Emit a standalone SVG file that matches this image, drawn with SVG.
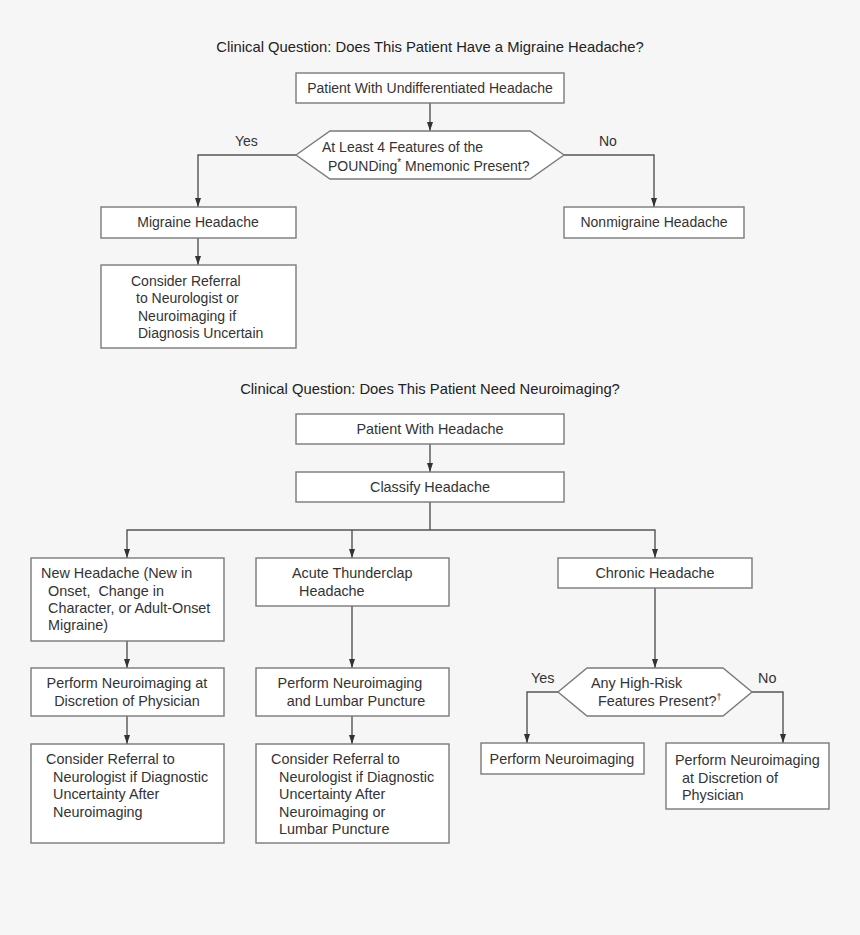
<svg xmlns="http://www.w3.org/2000/svg" width="860" height="935" viewBox="0 0 860 935">
<defs>
<marker id="ah" viewBox="0 0 9 6" refX="9" refY="3" markerWidth="9" markerHeight="6" markerUnits="userSpaceOnUse" orient="auto">
<path d="M0,0 L9,3 L0,6 z" fill="#333"/>
</marker>
<style>
.bx{fill:#fff;stroke:#7a7a7a;stroke-width:1.4}
.t{font-family:"Liberation Sans",Arial,sans-serif;font-size:14px;fill:#333}
.b{font-family:"Liberation Sans",Arial,sans-serif;font-size:14.4px;fill:#333}
.c{text-anchor:middle}
.ttl{font-family:"Liberation Sans",Arial,sans-serif;font-size:14.8px;fill:#222;text-anchor:middle}
.ln{fill:none;stroke:#555;stroke-width:1.4}
.ar{marker-end:url(#ah)}
</style>
</defs>
<rect width="860" height="935" fill="#f6f6f6"/>

<text class="ttl" x="430" y="52">Clinical Question: Does This Patient Have a Migraine Headache?</text>
<text class="ttl" x="430" y="394">Clinical Question: Does This Patient Need Neuroimaging?</text>

<g id="connectors">
<line class="ln ar" x1="430" y1="103" x2="430" y2="131"/>
<polyline class="ln ar" points="296,155 198,155 198,207"/>
<polyline class="ln ar" points="564,155 654,155 654,207"/>
<line class="ln ar" x1="198" y1="238" x2="198" y2="265"/>
<line class="ln ar" x1="430" y1="444" x2="430" y2="472"/>
<polyline class="ln" points="430,502 430,530"/>
<polyline class="ln ar" points="430,530 127,530 127,558"/>
<line class="ln ar" x1="352" y1="530" x2="352" y2="558"/>
<polyline class="ln ar" points="430,530 655,530 655,558"/>
<line class="ln ar" x1="127" y1="641" x2="127" y2="668"/>
<line class="ln ar" x1="352" y1="606" x2="352" y2="668"/>
<line class="ln ar" x1="655" y1="588" x2="655" y2="668"/>
<line class="ln ar" x1="127" y1="716" x2="127" y2="744"/>
<line class="ln ar" x1="352" y1="716" x2="352" y2="744"/>
<polyline class="ln ar" points="558,692 527,692 527,743"/>
<polyline class="ln ar" points="752,692 783,692 783,743"/>
</g>

<g id="n1">
<rect class="bx" x="296" y="73" width="268" height="30"/>
<text class="t c" x="430" y="93">Patient With Undifferentiated Headache</text>
</g>
<g id="n2">
<polygon class="bx" points="296,155 330,131 530,131 564,155 530,179 330,179"/>
<text class="t" x="322" y="152">At Least 4 Features of the</text>
<text class="t" x="328" y="171">POUNDing<tspan font-size="10" dy="-5">*</tspan><tspan dy="5"> Mnemonic Present?</tspan></text>
</g>
<g id="lbl-yes1"><text class="t" x="235" y="146">Yes</text></g>
<g id="lbl-no1"><text class="t" x="599" y="146">No</text></g>
<g id="n3">
<rect class="bx" x="101" y="207" width="195" height="31"/>
<text class="t c" x="198" y="227">Migraine Headache</text>
</g>
<g id="n4">
<rect class="bx" x="564" y="207" width="180" height="31"/>
<text class="t c" x="654" y="227">Nonmigraine Headache</text>
</g>
<g id="n5">
<rect class="bx" x="101" y="265" width="195" height="83"/>
<text class="t" x="131" y="286">Consider Referral</text>
<text class="t" x="136" y="303">to Neurologist or</text>
<text class="t" x="138" y="321">Neuroimaging if</text>
<text class="t" x="138" y="338">Diagnosis Uncertain</text>
</g>

<g id="n6">
<rect class="bx" x="296" y="414" width="268" height="30"/>
<text class="b c" x="430" y="434">Patient With Headache</text>
</g>
<g id="n7">
<rect class="bx" x="296" y="472" width="268" height="30"/>
<text class="b c" x="430" y="492">Classify Headache</text>
</g>
<g id="n8">
<rect class="bx" x="31" y="558" width="193" height="83"/>
<text class="b" x="41" y="578">New Headache (New in</text>
<text class="b" x="48" y="596" xml:space="preserve">Onset,  Change in</text>
<text class="b" x="48" y="613">Character, or Adult-Onset</text>
<text class="b" x="48" y="630">Migraine)</text>
</g>
<g id="n9">
<rect class="bx" x="256" y="558" width="193" height="48"/>
<text class="b" x="292" y="578">Acute Thunderclap</text>
<text class="b" x="299" y="596">Headache</text>
</g>
<g id="n10">
<rect class="bx" x="558" y="558" width="194" height="30"/>
<text class="b c" x="655" y="578">Chronic Headache</text>
</g>
<g id="n11">
<rect class="bx" x="31" y="668" width="193" height="48"/>
<text class="b c" x="127" y="688">Perform Neuroimaging at</text>
<text class="b c" x="127" y="706">Discretion of Physician</text>
</g>
<g id="n12">
<rect class="bx" x="256" y="668" width="193" height="48"/>
<text class="b c" x="350" y="688">Perform Neuroimaging</text>
<text class="b c" x="356" y="706">and Lumbar Puncture</text>
</g>
<g id="n13">
<polygon class="bx" points="558,692 587,668 723,668 752,692 723,716 587,716"/>
<text class="b" x="591" y="688">Any High-Risk</text>
<text class="b" x="598" y="706">Features Present?<tspan font-size="9" dy="-6">†</tspan></text>
</g>
<g id="lbl-yes2"><text class="b" x="531" y="683">Yes</text></g>
<g id="lbl-no2"><text class="b" x="758" y="683">No</text></g>
<g id="n14">
<rect class="bx" x="31" y="744" width="193" height="99"/>
<text class="b" x="46" y="764">Consider Referral to</text>
<text class="b" x="53" y="782">Neurologist if Diagnostic</text>
<text class="b" x="53" y="799">Uncertainty After</text>
<text class="b" x="53" y="817">Neuroimaging</text>
</g>
<g id="n15">
<rect class="bx" x="256" y="744" width="193" height="99"/>
<text class="b" x="271" y="764">Consider Referral to</text>
<text class="b" x="279" y="782">Neurologist if Diagnostic</text>
<text class="b" x="279" y="799">Uncertainty After</text>
<text class="b" x="279" y="817">Neuroimaging or</text>
<text class="b" x="279" y="834">Lumbar Puncture</text>
</g>
<g id="n16">
<rect class="bx" x="481" y="743" width="163" height="31"/>
<text class="b c" x="562" y="764">Perform Neuroimaging</text>
</g>
<g id="n17">
<rect class="bx" x="666" y="743" width="163" height="66"/>
<text class="b" x="675" y="765">Perform Neuroimaging</text>
<text class="b" x="682" y="783">at Discretion of</text>
<text class="b" x="682" y="800">Physician</text>
</g>
</svg>
